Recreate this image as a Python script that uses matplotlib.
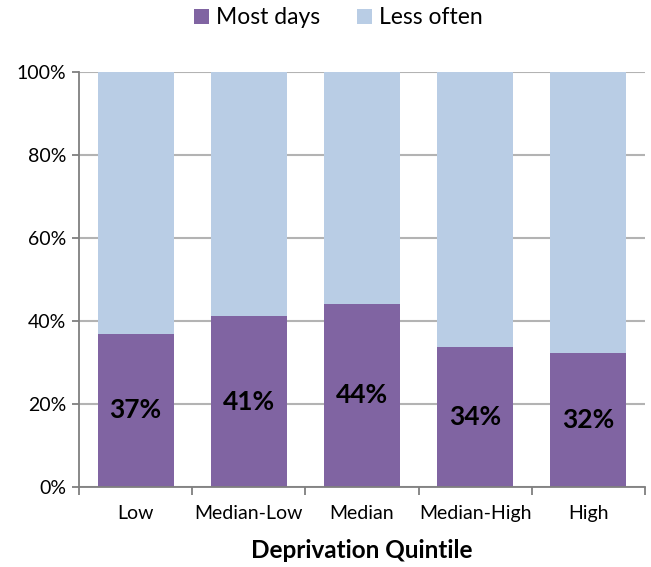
import matplotlib
matplotlib.use("Agg")
import matplotlib.pyplot as plt
from matplotlib.ticker import FuncFormatter
import numpy as np

categories = ["Low", "Median-Low", "Median", "Median-High", "High"]
most_days = [36.9, 41.1, 44.2, 33.7, 32.3]
less_often = [100 - v for v in most_days]
y_ticks = [0, 20, 40, 60, 80, 100]

plt.rcParams['font.family'] = ['Lato', 'DejaVu Sans']

fig = plt.figure(figsize=(6.51, 5.67), dpi=100)
ax = fig.add_axes([79/651, 1-487/567, 566/651, 415/567])

x = np.arange(len(categories))
purple = "#8064A2"
blue = "#B9CDE5"
ax.set_axisbelow(True)
ax.yaxis.grid(True, color="#B3B3B3", linewidth=1.5)
b1 = ax.bar(x, most_days, width=0.67, color=purple, label="Most days")
b2 = ax.bar(x, less_often, width=0.67, bottom=most_days, color=blue, label="Less often")

for xi, v in zip(x, most_days):
    ax.text(xi, v/2, f"{round(v):d}%", ha="center", va="center", fontsize=19, fontweight="bold", color="black")

ax.set_xlim(-0.5, len(categories) - 0.5)
ax.set_ylim(0, 100)
ax.set_yticks(y_ticks)
ax.yaxis.set_major_formatter(FuncFormatter(lambda v, p: f"{int(v)}%"))
ax.set_xticks(x)
ax.set_xticklabels(categories, fontsize=14)
ax.set_xticks(np.arange(-0.5, len(categories)), minor=True)
ax.tick_params(axis="x", which="major", length=0, pad=13)
ax.tick_params(axis="x", which="minor", length=6, color="#7F7F7F", width=1.3)
ax.tick_params(axis="y", length=5, color="#7F7F7F", width=1.3, labelsize=14, pad=4)
for s in ["top", "right"]:
    ax.spines[s].set_visible(False)
for s in ["left", "bottom"]:
    ax.spines[s].set_color("#7F7F7F")
    ax.spines[s].set_linewidth(1.3)

ax.set_xlabel("Deprivation Quintile", fontsize=17.5, fontweight="bold", labelpad=12)

fig.legend(handles=[b1, b2], loc="center", bbox_to_anchor=(0.52, 1-18/567), ncol=2,
           frameon=False, fontsize=16.5, handlelength=0.65, handleheight=0.65,
           handletextpad=0.3, columnspacing=1.6)

fig.savefig("out.png", dpi=100)
